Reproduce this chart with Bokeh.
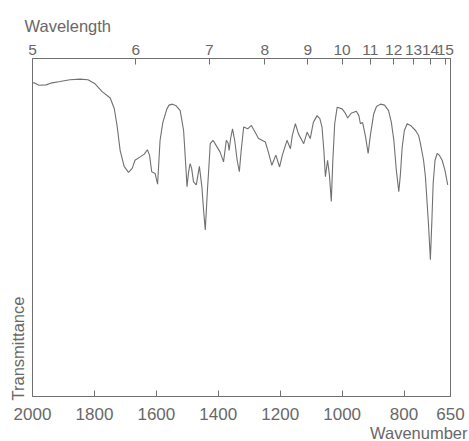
from bokeh.embed import file_html
from bokeh.models import (ColumnDataSource, CustomJSTickFormatter, FixedTicker,
                          LinearAxis, Range1d, Title)
from bokeh.plotting import figure
from bokeh.resources import INLINE

# IR spectrum: wavenumber (cm^-1) and transmittance (%)
wavenumber = [
    2000, 1995, 1979, 1956, 1937, 1911, 1879, 1846, 1821, 1798,
    1775, 1749, 1736, 1727, 1717, 1704, 1690, 1678, 1669, 1652,
    1639, 1629, 1622, 1615, 1604, 1596, 1588, 1579, 1566, 1559,
    1548, 1536, 1523, 1512, 1505, 1501, 1496, 1491, 1486, 1480,
    1471, 1461, 1453, 1447, 1442, 1435, 1429, 1426, 1417, 1407,
    1394, 1383, 1374, 1368, 1365, 1360, 1354, 1347, 1339, 1332,
    1326, 1318, 1305, 1293, 1284, 1270, 1248, 1238, 1227, 1214,
    1202, 1193, 1178, 1167, 1161, 1151, 1141, 1124, 1113, 1103,
    1093, 1081, 1072, 1065, 1059, 1054, 1047, 1041, 1035, 1030,
    1024, 1016, 1000, 991, 982, 971, 954, 946, 941, 934,
    925, 916, 909, 898, 889, 876, 863, 850, 841, 833,
    825, 817, 812, 806, 799, 790, 779, 763, 753, 747,
    737, 731, 721, 715, 710, 706, 700, 693, 686, 677,
    668, 659,
]
transmittance = [
    92.7, 92.8, 92.1, 92.2, 92.8, 93.2, 93.7, 93.9, 93.7, 92.5,
    90.2, 88.3, 85.2, 80.2, 72.8, 68.1, 66.3, 67.5, 69.9, 70.9,
    71.7, 73.0, 71.4, 66.5, 66.0, 62.8, 75.8, 81.1, 85.1, 86.2,
    86.5, 86.0, 84.6, 78.7, 68.4, 62.1, 66.4, 68.9, 67.5, 63.5,
    62.6, 68.1, 62.1, 54.6, 49.3, 61.1, 69.9, 74.8, 75.8, 74.3,
    72.3, 69.4, 75.8, 74.9, 72.8, 76.4, 79.2, 75.8, 69.9, 66.5,
    72.8, 79.7, 79.2, 80.2, 78.7, 76.3, 75.3, 72.2, 68.4, 71.4,
    67.9, 71.4, 75.8, 73.3, 77.2, 80.7, 77.7, 74.8, 78.2, 76.3,
    81.1, 83.1, 82.2, 79.7, 72.8, 65.0, 69.9, 65.5, 57.7, 69.9,
    80.7, 85.6, 85.1, 84.0, 82.4, 83.8, 84.4, 83.1, 80.7, 81.1,
    77.2, 71.9, 77.2, 83.6, 85.8, 86.5, 86.2, 84.6, 81.1, 75.8,
    67.0, 60.6, 65.5, 73.8, 78.7, 80.7, 80.2, 78.7, 77.2, 74.8,
    69.9, 65.0, 50.8, 40.5, 52.3, 63.1, 69.9, 71.9, 71.4, 69.9,
    67.0, 62.6,
]

wavenumber_ticks = [2000, 1800, 1600, 1400, 1200, 1000, 800, 650]
wavelength_ticks = [5, 6, 7, 8, 9, 10, 11, 12, 13, 14, 15]  # micrometres

FONT = "Liberation Sans"
TEXT = "#686868"
LINE = "#707070"

p = figure(
    width=469, height=441,
    x_range=Range1d(2000, 650), y_range=Range1d(0, 100),
    output_backend="svg", toolbar_location=None,
    min_border_left=32, min_border_right=19,
    min_border_top=58, min_border_bottom=43,
)
p.grid.visible = False
p.yaxis.visible = False
p.outline_line_color = LINE
p.outline_line_width = 1
p.background_fill_color = "white"
p.border_fill_color = "white"

src = ColumnDataSource(dict(w=wavenumber, t=transmittance))
p.line("w", "t", source=src, line_color=LINE, line_width=1.1)

def style_axis(ax, size):
    ax.axis_line_color = LINE
    ax.major_tick_line_color = LINE
    ax.major_tick_in = 6
    ax.major_tick_out = 0
    ax.minor_tick_line_color = None
    ax.major_label_text_font = FONT
    ax.major_label_text_font_size = size
    ax.major_label_text_color = TEXT

# bottom axis: wavenumber
xa = p.xaxis[0]
xa.ticker = FixedTicker(ticks=wavenumber_ticks)
xa.major_label_standoff = 11
style_axis(xa, "17px")

# top axis: wavelength in micrometres (10000 / wavenumber)
top = LinearAxis(
    ticker=FixedTicker(ticks=[10000.0 / l for l in wavelength_ticks]),
    formatter=CustomJSTickFormatter(code="return Math.round(10000 / tick).toString();"),
)
top.major_label_standoff = 4
style_axis(top, "15.5px")
p.add_layout(top, "above")

title_style = dict(text_font=FONT, text_font_size="16.5px",
                   text_font_style="normal", text_color=TEXT)
p.title = Title(text="Wavelength", align="left", offset=-8, standoff=14, **title_style)
p.add_layout(Title(text="Wavenumber", align="right", offset=-17, standoff=-1, **title_style), "below")
p.add_layout(Title(text="Transmittance", align="left", offset=-4, standoff=12, **title_style), "left")

open("out.html", "w").write(file_html(p, INLINE))
